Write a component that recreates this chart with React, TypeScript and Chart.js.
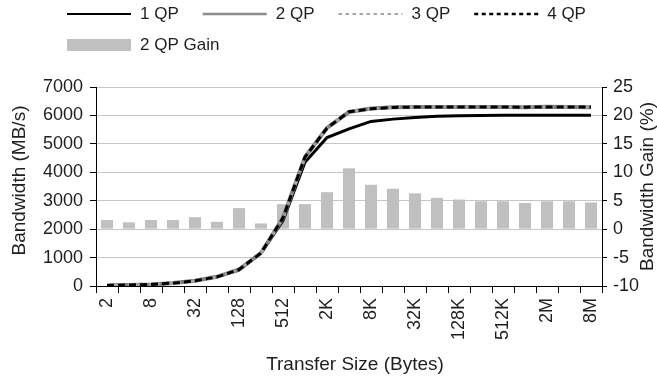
import React, { useEffect, useRef } from "react";
import { Chart, registerables } from "chart.js";

Chart.register(...registerables);

// ---- data ----
const categories = ["2", "4", "8", "16", "32", "64", "128", "256", "512", "1K", "2K", "4K", "8K", "16K", "32K", "64K", "128K", "256K", "512K", "1M", "2M", "4M", "8M"];
const qp1 = [20, 35, 55, 100, 180, 320, 560, 1150, 2300, 4350, 5220, 5530, 5790, 5870, 5930, 5970, 5990, 6000, 6005, 6010, 6010, 6005, 6005];
const qp2 = [20, 35, 56, 102, 184, 324, 581, 1162, 2400, 4540, 5560, 6120, 6240, 6285, 6300, 6300, 6300, 6295, 6300, 6285, 6305, 6300, 6290];
const qp3 = [20, 35, 56, 101, 183, 322, 578, 1160, 2390, 4530, 5550, 6130, 6235, 6280, 6295, 6300, 6300, 6300, 6295, 6290, 6300, 6300, 6295];
const qp4 = [20, 35, 56, 101, 183, 322, 578, 1160, 2395, 4535, 5555, 6130, 6235, 6280, 6295, 6300, 6300, 6300, 6295, 6290, 6300, 6300, 6295];
const gain2 = [1.6, 1.2, 1.6, 1.6, 2.1, 1.3, 3.7, 1.0, 4.4, 4.4, 6.5, 10.7, 7.8, 7.1, 6.3, 5.5, 5.2, 4.9, 4.9, 4.6, 4.9, 4.9, 4.7];
const leftAxis = { min: 0, max: 7000, step: 1000 };
const rightAxis = { min: -10, max: 25, step: 5 };
const xTitle = "Transfer Size (Bytes)";
const yTitle = "Bandwidth (MB/s)";
const y2Title = "Bandwidth Gain (%)";

const FONT = "'Liberation Sans', Arial, sans-serif";
const TEXT = "#1e1e1e";

type LegendSpec = { label: string; kind: "line" | "box"; color: string; width: number; dash: number[] };

const overlay = {
  id: "overlay",
  afterDraw(chart: any) {
    const ctx: CanvasRenderingContext2D = chart.ctx;
    const area = chart.chartArea;
    ctx.save();
    // legend
    const specs: LegendSpec[] = chart.data.datasets.map((d: any) => ({
      label: d.label,
      kind: d.type === "bar" ? "box" : "line",
      color: d.type === "bar" ? d.backgroundColor : d.legendColor || d.borderColor,
      width: d.legendWidth || 2,
      dash: d.legendDash || [],
    }));
    ctx.font = `17px ${FONT}`;
    ctx.textBaseline = "middle";
    ctx.textAlign = "left";
    const startX = 67;
    let x = startX;
    let y = 14;
    let prevKind = specs[0].kind;
    specs.forEach((s) => {
      const tw = ctx.measureText(s.label).width;
      if (s.kind !== prevKind || x + 64 + 10 + tw > 640) {
        x = startX;
        y += 31;
      }
      prevKind = s.kind;
      if (s.kind === "line") {
        ctx.beginPath();
        ctx.setLineDash(s.dash);
        ctx.strokeStyle = s.color;
        ctx.lineWidth = s.width;
        ctx.moveTo(x, y);
        ctx.lineTo(x + 64, y);
        ctx.stroke();
        ctx.setLineDash([]);
      } else {
        ctx.fillStyle = s.color;
        ctx.fillRect(x, y - 6, 64, 12);
      }
      ctx.fillStyle = TEXT;
      ctx.fillText(s.label, x + 73, y);
      x += 73 + tw + 24;
    });

    // axis titles
    ctx.font = `19px ${FONT}`;
    ctx.fillStyle = TEXT;
    ctx.textAlign = "center";
    ctx.textBaseline = "middle";
    ctx.fillText(xTitle, 355, 365);

    ctx.save();
    ctx.translate(20, (area.top + area.bottom) / 2 - 6);
    ctx.rotate(-Math.PI / 2);
    ctx.fillText(yTitle, 0, 0);
    ctx.restore();

    ctx.save();
    ctx.translate(648, (area.top + area.bottom) / 2);
    ctx.rotate(-Math.PI / 2);
    ctx.fillText(y2Title, 0, 0);
    ctx.restore();

    ctx.restore();
  },
};

export default function App() {
  const canvasRef = useRef<HTMLCanvasElement | null>(null);

  useEffect(() => {
    document.body.style.margin = "0";
    const canvas = canvasRef.current;
    if (!canvas) return;
    const tickFont = { family: FONT, size: 18 };
    const chart = new Chart(canvas, {
      type: "bar",
      data: {
        labels: categories,
        datasets: [
          { type: "line", label: "1 QP", data: qp1, borderColor: "#000000", borderWidth: 3, pointRadius: 0, yAxisID: "y", order: 4, legendWidth: 2 } as any,
          { type: "line", label: "2 QP", data: qp2, borderColor: "#7f7f7f", borderWidth: 4, pointRadius: 0, yAxisID: "y", order: 3, legendWidth: 2.5, legendColor: "#8c8c8c" } as any,
          { type: "line", label: "3 QP", data: qp3, borderColor: "#a6a6a6", borderWidth: 3, borderDash: [4, 3], pointRadius: 0, yAxisID: "y", order: 2, legendWidth: 2, legendDash: [3.5, 3.5] } as any,
          { type: "line", label: "4 QP", data: qp4, borderColor: "#000000", borderWidth: 3, borderDash: [7, 4], pointRadius: 0, yAxisID: "y", order: 1, legendWidth: 2.5, legendDash: [4, 3.5] } as any,
          { type: "bar", label: "2 QP Gain", data: gain2, backgroundColor: "#c0c0c0", yAxisID: "y2", barPercentage: 0.55, categoryPercentage: 1, order: 10 } as any,
        ],
      },
      options: {
        responsive: false,
        animation: false,
        devicePixelRatio: 1,
        layout: { padding: { top: 87, left: 0, right: 0, bottom: 0 } },
        plugins: { legend: { display: false }, tooltip: { enabled: false } },
        scales: {
          x: {
            offset: true,
            grid: { offset: true, drawOnChartArea: false, tickLength: 7, tickColor: "#000", tickWidth: 1 },
            border: { color: "#000", width: 1 },
            ticks: {
              autoSkip: false,
              maxRotation: 90,
              minRotation: 90,
              padding: 5,
              font: tickFont,
              color: TEXT,
              callback: (_v: any, i: number) => (i % 2 === 0 ? categories[i] : ""),
            },
            afterFit: (s: any) => {
              s.height = 93;
            },
          },
          y: {
            position: "left",
            min: leftAxis.min,
            max: leftAxis.max,
            ticks: { stepSize: leftAxis.step, padding: 7, font: tickFont, color: TEXT, callback: (v: any) => String(v) },
            grid: { color: "#c6c6c6", tickColor: "#000", tickLength: 6, lineWidth: 1 },
            border: { color: "#000", width: 1 },
            afterFit: (s: any) => {
              s.width = 96;
            },
          },
          y2: {
            position: "right",
            min: rightAxis.min,
            max: rightAxis.max,
            ticks: { stepSize: rightAxis.step, padding: 6, font: tickFont, color: TEXT, callback: (v: any) => String(v) },
            grid: { drawOnChartArea: false, tickColor: "#000", tickLength: 5 },
            border: { color: "#000", width: 1 },
            afterFit: (s: any) => {
              s.width = 55;
            },
          },
        },
      } as any,
      plugins: [overlay],
    });
    return () => chart.destroy();
  }, []);

  return (
    <div style={{ width: 657, height: 379 }}>
      <canvas ref={canvasRef} width={657} height={379} style={{ display: "block" }} />
    </div>
  );
}
